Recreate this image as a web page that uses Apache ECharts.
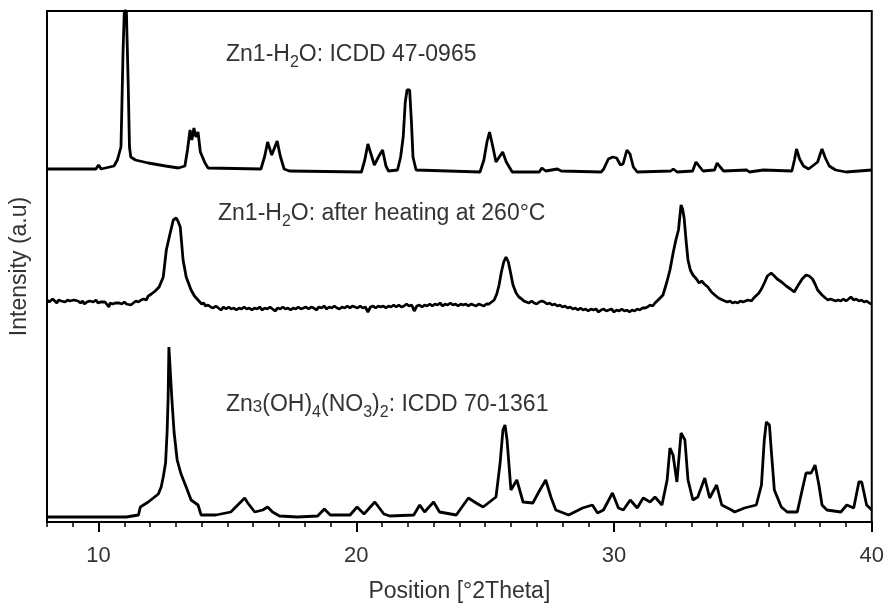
<!DOCTYPE html>
<html><head><meta charset="utf-8">
<script src="https://cdn.jsdelivr.net/npm/echarts@6/dist/echarts.min.js"></script>
<style>html,body{margin:0;padding:0;background:#fff}#c{width:887px;height:608px}</style>
</head><body><div id="c"></div>
<script>
const xTickValues = ['8','9','10','11','12','13','14','15','16','17','18','19','20','21','22','23','24','25','26','27','28','29','30','31','32','33','34','35','36','37','38','39','40'];
const xMajorTicks = ['10', '20', '30', '40'];
const xMinorStep = 1;
const xAxisTitle = 'Position [°2Theta]';
const yAxisTitle = 'Intensity (a.u)';

// Zn1-H2O: ICDD 47-0965 (top trace, stacked)
const patternTop = [
[8.0,353],[9.0,353],[9.9,353],[10.0,357],[10.1,353],[10.6,356],[10.73,362],[10.87,375],[10.9,409],[10.95,470],[11.0,511],[11.08,511],[11.15,439],[11.2,375],[11.25,365],[11.43,362],[11.93,359],[12.6,356],[13.1,354],[13.35,356],[13.45,372],[13.55,392],[13.62,382],[13.7,394],[13.78,385],[13.86,390],[13.95,370],[14.13,359],[14.25,354],[16.3,353],[16.45,366],[16.56,380],[16.72,367],[16.93,381],[17.05,366],[17.2,353],[17.4,351],[20.2,350],[20.33,362],[20.45,378],[20.57,368],[20.7,357],[20.88,366],[21.02,372],[21.15,356],[21.25,351],[21.6,352],[21.72,365],[21.82,385],[21.9,420],[21.97,432],[22.07,432],[22.14,400],[22.2,365],[22.32,352],[24.8,350],[24.95,362],[25.07,380],[25.17,390],[25.3,375],[25.42,360],[25.55,365],[25.68,370],[25.82,360],[26.05,350],[27.1,350],[27.2,354],[27.35,351],[27.8,353],[27.95,351],[29.5,350],[29.6,353],[29.78,363],[29.95,365],[30.1,364],[30.25,357],[30.35,358],[30.5,372],[30.62,368],[30.75,355],[30.9,350],[32.2,351],[32.3,353],[32.45,350],[33.05,351],[33.18,360],[33.3,356],[33.45,351],[33.9,352],[34.0,359],[34.12,355],[34.25,351],[35.15,352],[35.25,350],[35.8,352],[36.9,351],[37.0,362],[37.08,373],[37.2,363],[37.35,356],[37.55,353],[37.9,360],[38.0,368],[38.07,373],[38.2,364],[38.35,356],[38.6,352],[39.0,350],[40.0,352]
];

// Zn1-H2O after heating at 260°C (middle trace, stacked)
const patternMiddle = [
[8.0,222],[8.08,220],[8.15,221],[8.22,223],[8.3,221],[8.38,219],[8.45,222],[8.55,221],[8.62,223],[8.7,220],[8.8,222],[8.88,221],[8.95,219],[9.05,222],[9.12,220],[9.2,221],[9.3,219],[9.38,221],[9.45,218],[9.55,220],[9.65,221],[9.72,219],[9.8,220],[9.9,222],[9.98,219],[10.08,220],[10.15,218],[10.25,220],[10.32,219],[10.4,215],[10.45,219],[10.55,218],[10.65,219],[10.72,217],[10.8,219],[10.9,218],[11.0,220],[11.08,218],[11.15,219],[11.25,217],[11.35,219],[11.45,221],[11.55,220],[11.65,222],[11.75,223],[11.85,222],[11.93,226],[12.05,228],[12.2,231],[12.35,235],[12.51,245],[12.63,272],[12.78,289],[12.9,302],[13.01,304],[13.08,301],[13.17,295],[13.28,262],[13.4,245],[13.59,232],[13.72,226],[13.86,222],[14.0,218],[14.08,219],[14.15,216],[14.25,217],[14.35,215],[14.45,214],[14.55,216],[14.65,214],[14.75,212],[14.85,215],[14.95,213],[15.05,215],[15.15,213],[15.25,214],[15.35,212],[15.45,214],[15.55,213],[15.65,215],[15.75,213],[15.85,214],[15.95,212],[16.05,214],[16.15,213],[16.25,215],[16.35,212],[16.45,214],[16.55,213],[16.65,215],[16.75,213],[16.85,211],[16.95,214],[17.05,213],[17.15,215],[17.25,213],[17.35,214],[17.45,212],[17.55,214],[17.65,213],[17.75,215],[17.85,213],[17.95,214],[18.05,215],[18.15,213],[18.25,215],[18.35,214],[18.45,212],[18.55,215],[18.65,214],[18.75,216],[18.85,213],[18.95,215],[19.05,214],[19.15,216],[19.25,214],[19.35,213],[19.45,215],[19.55,214],[19.65,216],[19.75,214],[19.85,216],[19.95,215],[20.05,214],[20.15,216],[20.25,214],[20.35,215],[20.45,210],[20.55,215],[20.65,216],[20.75,214],[20.85,216],[20.95,215],[21.05,216],[21.15,214],[21.25,216],[21.35,215],[21.45,217],[21.55,215],[21.65,217],[21.75,215],[21.85,216],[21.95,218],[22.05,216],[22.15,217],[22.25,211],[22.35,216],[22.45,217],[22.55,215],[22.65,217],[22.75,216],[22.85,218],[22.95,216],[23.05,218],[23.15,217],[23.25,219],[23.35,216],[23.45,218],[23.55,217],[23.65,219],[23.75,217],[23.85,218],[23.95,216],[24.05,218],[24.15,217],[24.25,218],[24.35,216],[24.45,218],[24.55,217],[24.65,216],[24.75,218],[24.85,217],[24.95,216],[25.05,218],[25.15,218],[25.25,220],[25.35,222],[25.45,228],[25.54,237],[25.63,250],[25.72,260],[25.81,265],[25.9,260],[25.98,250],[26.08,237],[26.2,229],[26.31,225],[26.42,223],[26.5,221],[26.6,220],[26.7,219],[26.8,221],[26.9,219],[27.0,218],[27.1,220],[27.2,221],[27.3,220],[27.4,218],[27.5,219],[27.6,217],[27.7,218],[27.8,216],[27.9,217],[28.0,215],[28.1,216],[28.2,214],[28.3,215],[28.4,213],[28.5,214],[28.6,212],[28.7,214],[28.8,212],[28.9,213],[29.0,211],[29.1,213],[29.2,212],[29.3,213],[29.4,210],[29.5,212],[29.6,213],[29.7,211],[29.8,212],[29.9,213],[30.0,210],[30.1,212],[30.2,211],[30.3,213],[30.4,211],[30.5,212],[30.6,210],[30.7,212],[30.8,211],[30.9,213],[31.0,212],[31.1,214],[31.21,214],[31.3,215],[31.4,217],[31.5,216],[31.59,219],[31.75,223],[31.9,227],[32.05,240],[32.17,252],[32.3,270],[32.4,282],[32.5,292],[32.6,317],[32.66,313],[32.72,304],[32.8,280],[32.87,262],[32.96,252],[33.06,247],[33.2,243],[33.3,239],[33.4,241],[33.5,238],[33.64,235],[33.78,230],[33.91,227],[34.05,224],[34.21,222],[34.3,221],[34.4,220],[34.5,221],[34.6,219],[34.7,220],[34.8,219],[34.9,221],[35.0,220],[35.1,221],[35.2,222],[35.33,221],[35.42,224],[35.5,226],[35.62,229],[35.72,233],[35.85,240],[35.95,246],[36.1,249],[36.22,246],[36.33,243],[36.5,240],[36.68,236],[36.85,233],[36.99,230],[37.15,237],[37.3,243],[37.45,247],[37.57,246],[37.7,243],[37.8,238],[37.9,232],[38.07,227],[38.2,224],[38.3,222],[38.4,223],[38.5,222],[38.6,221],[38.7,222],[38.8,221],[38.9,223],[39.0,221],[39.1,223],[39.19,225],[39.3,222],[39.4,223],[39.5,221],[39.6,222],[39.7,220],[39.8,221],[39.9,219],[40.0,218]
];

// Zn3(OH)4(NO3)2: ICDD 70-1361 (bottom trace)
const patternBottom = [
[8.0,5],[11.08,5],[11.55,7],[11.62,15],[11.93,20],[12.32,28],[12.43,35],[12.51,45],[12.6,59],[12.66,90],[12.7,125],[12.73,175],[12.8,175],[12.84,125],[12.93,90],[13.05,62],[13.2,48],[13.4,35],[13.59,22],[13.86,17],[13.98,7],[14.05,5],[14.55,7],[15.13,10],[15.4,17],[15.67,24],[15.79,19],[16.06,10],[16.37,12],[16.56,15],[16.75,10],[17.02,6],[17.71,5],[18.5,6],[18.76,13],[18.99,7],[19.76,7],[20.03,15],[20.3,8],[20.72,20],[21.07,8],[21.3,6],[22.23,7],[22.46,17],[22.65,10],[23.0,20],[23.23,10],[23.88,7],[24.35,24],[24.65,19],[24.92,15],[25.42,25],[25.58,59],[25.69,92],[25.77,97],[25.85,82],[26.0,32],[26.23,42],[26.47,20],[26.85,19],[27.08,30],[27.35,42],[27.55,25],[27.74,12],[28.24,7],[28.78,14],[29.16,17],[29.36,9],[29.59,12],[29.94,29],[30.17,14],[30.36,12],[30.63,22],[30.9,14],[31.13,24],[31.4,20],[31.59,25],[31.86,17],[32.06,42],[32.17,74],[32.29,67],[32.44,40],[32.6,89],[32.75,82],[32.87,42],[33.06,22],[33.25,25],[33.52,44],[33.71,24],[33.98,37],[34.18,17],[34.56,12],[34.68,10],[35.06,14],[35.52,17],[35.72,37],[35.83,82],[35.91,100],[36.03,97],[36.1,72],[36.22,32],[36.49,15],[36.72,10],[37.11,10],[37.3,32],[37.45,49],[37.65,49],[37.8,57],[37.95,37],[38.07,17],[38.26,12],[38.8,10],[39.03,17],[39.3,14],[39.5,40],[39.61,40],[39.8,17],[40.0,12]
];

const annotations = [
  {text: 'Zn1-H{sub|2}O: ICDD 47-0965', x: 226, y: 55},
  {text: 'Zn1-H{sub|2}O: after heating at 260°C', x: 218, y: 214},
  {text: 'Zn{sm|3}(OH){sub|4}(NO{sub|3}){sub|2}: ICDD 70-1361', x: 226, y: 405}
];

const FONT = "'Liberation Sans', Arial, Helvetica, sans-serif";
const TXT = '#333';
const chart = echarts.init(document.getElementById('c'));

const isMajor = (idx, val) => xMajorTicks.indexOf(String(val)) >= 0;

function lineSeries(data) {
  return {type: 'line', data: data, showSymbol: false, symbol: 'none', xAxisIndex: 0, yAxisIndex: 0,
    lineStyle: {color: '#000', width: 2.8}, itemStyle: {color: '#000'}, animation: false, clip: false};
}

chart.setOption({
  animation: false,
  grid: {left: 47, right: 9, top: 11, bottom: 86, show: true, borderColor: '#000', borderWidth: 2, backgroundColor: 'transparent'},
  xAxis: [
    {type: 'value', min: 8, max: 40, interval: xMinorStep, position: 'bottom', gridIndex: 0,
     name: xAxisTitle, nameLocation: 'middle', nameGap: 58,
     nameTextStyle: {fontFamily: FONT, fontSize: 23, color: TXT},
     axisLine: {show: true, lineStyle: {color: '#000', width: 2}},
     axisTick: {show: true, length: 5, lineStyle: {color: '#000', width: 1.5}},
     axisLabel: {show: false}, splitLine: {show: false}},
    {type: 'category', data: xTickValues, boundaryGap: false, position: 'bottom', gridIndex: 0,
     axisLine: {show: false},
     axisTick: {show: true, interval: isMajor, length: 10, lineStyle: {color: '#000', width: 2}},
     axisLabel: {show: true, interval: isMajor, margin: 23, fontFamily: FONT, fontSize: 22, color: TXT},
     splitLine: {show: false}}
  ],
  yAxis: {type: 'value', min: 0, max: 511, gridIndex: 0,
     name: yAxisTitle, nameLocation: 'middle', nameGap: 16,
     nameTextStyle: {fontFamily: FONT, fontSize: 23, color: TXT},
     axisLine: {show: true, lineStyle: {color: '#000', width: 2}},
     axisTick: {show: false}, axisLabel: {show: false}, splitLine: {show: false}},
  series: [lineSeries(patternTop), lineSeries(patternMiddle), lineSeries(patternBottom)],
  graphic: annotations.map(a => ({
    type: 'text', x: a.x, y: a.y, silent: true,
    style: {text: a.text, fontFamily: FONT, fontSize: 23, fill: TXT, verticalAlign: 'middle', align: 'left',
      rich: {
        sub: {fontFamily: FONT, fontSize: 16, fill: TXT, padding: [15, 0, 0, 0]},
        sm: {fontFamily: FONT, fontSize: 17, fill: TXT, padding: [5, 0, 0, 0]}
      }}
  }))
});
</script>
</body></html>
